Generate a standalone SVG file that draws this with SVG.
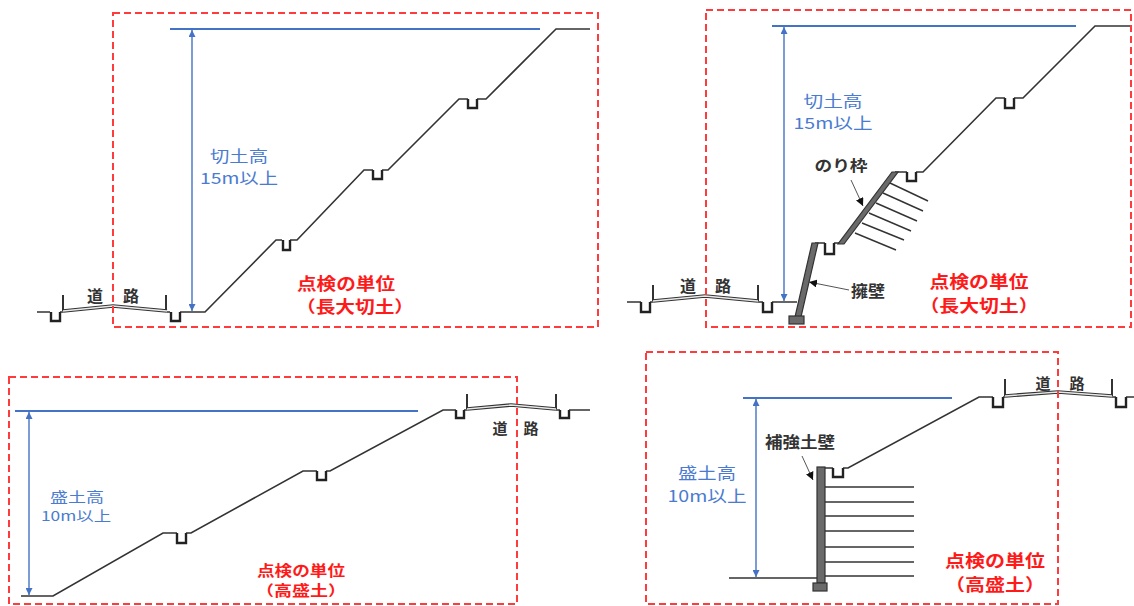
<svg xmlns="http://www.w3.org/2000/svg" width="1134" height="606" viewBox="0 0 1134 606">
<style>
.bg{fill:#fff}
.box{fill:none;stroke:#ff3b3b;stroke-width:2;stroke-dasharray:7 4}
.prof{fill:none;stroke:#333;stroke-width:1.6;stroke-linejoin:miter}
.drain{fill:none;stroke:#222;stroke-width:2.4}
.post{stroke:#333;stroke-width:2}
.roadO{fill:none;stroke:#333;stroke-width:3.6}
.roadI{fill:none;stroke:#e8e8e8;stroke-width:1.3}
.dimL{stroke:#4472c4;stroke-width:1.8;fill:none}
.dimA{stroke:#4472c4;stroke-width:1.4;fill:none}
.wall{fill:#6a6a6a;stroke:#333;stroke-width:1.2}
.anc{stroke:#333;stroke-width:1.4}
.lead{stroke:#555;stroke-width:1;fill:none}
.tb{font-family:"Noto Sans CJK JP","Noto Sans",sans-serif;fill:#4a7bd0;text-anchor:middle}
.tr{font-family:"Noto Sans CJK JP","Noto Sans",sans-serif;fill:#ff1a1a;font-weight:bold;text-anchor:middle}
.tk{font-family:"Noto Sans CJK JP","Noto Sans",sans-serif;fill:#333;font-weight:bold;text-anchor:middle}
</style>
<defs>
<marker id="ba" viewBox="0 0 10 10" refX="10" refY="5" markerWidth="7" markerHeight="7" markerUnits="userSpaceOnUse" orient="auto-start-reverse"><path d="M0,0 L10,5 L0,10 Z" fill="#4472c4"/></marker>
<marker id="ka" viewBox="0 0 10 10" refX="10" refY="5" markerWidth="8" markerHeight="8" markerUnits="userSpaceOnUse" orient="auto"><path d="M0,0 L10,5 L0,10 Z" fill="#111"/></marker>
</defs>
<rect class="bg" x="0" y="0" width="1134" height="606"/>

<g id="panel-top-left">
<path class="prof" d="M37,312 H50 M60,312 H63 M167,312 H170 M180,312 H205 L276,240 H282 M290,240 H297 L364,170 H373 M382,170 H388 L459,99 H468 M477,99 H486 L556,29 H590"/>
<path class="drain" d="M51,312 V321 H60 V312 M171,312 V321 H180 V312 M283,240 V250 H290 V240 M373,170 V179 H382 V170 M468,99 V108 H477 V99"/>
<line class="post" x1="63" y1="295" x2="63" y2="311"/>
<line class="post" x1="166" y1="295" x2="166" y2="311"/>
<polyline class="roadO" points="63,311 113,306 167,311"/>
<polyline class="roadI" points="63,311 113,306 167,311"/>
<text class="tk" x="95" y="302" font-size="16">道</text>
<text class="tk" x="131" y="302" font-size="16">路</text>
<line class="dimL" x1="170" y1="29" x2="540" y2="29"/>
<line class="dimA" x1="192" y1="30" x2="192" y2="311" marker-start="url(#ba)" marker-end="url(#ba)"/>
<text class="tb" x="239" y="162" font-size="15.5" textLength="58" lengthAdjust="spacingAndGlyphs">切土高</text>
<text class="tb" x="239" y="184" font-size="15.5" textLength="78" lengthAdjust="spacingAndGlyphs">15m以上</text>
<text class="tr" x="346" y="290" font-size="16.5" textLength="98" lengthAdjust="spacingAndGlyphs">点検の単位</text>
<text class="tr" x="355" y="313" font-size="16.5" textLength="118" lengthAdjust="spacingAndGlyphs">（長大切土）</text>
<rect class="box" x="113" y="13" width="485" height="314"/>
</g>

<g id="panel-top-right">
<path class="prof" d="M627,302 H641 M650,302 H653 M758,302 H763 M772,302 H797 M815,243 H825 M834,243 H842 M895,172 H907 M916,172 H923 L996,98 H1005 M1014,98 H1023 L1095,26 H1131"/>
<path class="drain" d="M641,302 V312 H650 V302 M763,302 V312 H772 V302 M825,243 V254 H834 V243 M907,172 V181 H916 V172 M1005,98 V108 H1014 V98"/>
<line class="post" x1="653" y1="285" x2="653" y2="301"/>
<line class="post" x1="758" y1="285" x2="758" y2="301"/>
<polyline class="roadO" points="653,301 705,296 758,301"/>
<polyline class="roadI" points="653,301 705,296 758,301"/>
<text class="tk" x="688" y="292" font-size="16">道</text>
<text class="tk" x="723" y="292" font-size="16">路</text>
<g id="anchors">
<line class="anc" x1="890" y1="183" x2="928" y2="201"/>
<line class="anc" x1="883" y1="193" x2="923" y2="211"/>
<line class="anc" x1="876" y1="203" x2="917" y2="221"/>
<line class="anc" x1="869" y1="213" x2="911" y2="231"/>
<line class="anc" x1="862" y1="223" x2="904" y2="240"/>
<line class="anc" x1="855" y1="233" x2="896" y2="250"/>
</g>
<polygon class="wall" points="838,244 844,244 898,172 892,172"/>
<polygon class="wall" points="795,317 801,317 818,243 812,243"/>
<rect class="wall" x="789" y="316" width="15" height="8"/>
<line class="dimL" x1="772" y1="26" x2="1076" y2="26"/>
<line class="dimA" x1="784" y1="27" x2="784" y2="301" marker-start="url(#ba)" marker-end="url(#ba)"/>
<text class="tb" x="833" y="107" font-size="15.5" textLength="59" lengthAdjust="spacingAndGlyphs">切土高</text>
<text class="tb" x="833" y="129" font-size="15.5" textLength="79" lengthAdjust="spacingAndGlyphs">15m以上</text>
<text class="tk" x="841" y="171" font-size="15" textLength="53" lengthAdjust="spacingAndGlyphs">のり枠</text>
<line class="lead" x1="851" y1="180" x2="863" y2="206" marker-end="url(#ka)"/>
<text class="tk" x="868" y="297" font-size="16" textLength="34" lengthAdjust="spacingAndGlyphs">擁壁</text>
<line class="lead" x1="849" y1="290" x2="809" y2="282" marker-end="url(#ka)"/>
<text class="tr" x="979" y="288" font-size="17" textLength="99" lengthAdjust="spacingAndGlyphs">点検の単位</text>
<text class="tr" x="979" y="312" font-size="17" textLength="119" lengthAdjust="spacingAndGlyphs">（長大切土）</text>
<rect class="box" x="706" y="10" width="425" height="317"/>
</g>

<g id="panel-bottom-left">
<path class="prof" d="M21,596 H53 L163,533 H177 M186,533 H191 L303,471 H317 M326,471 H330 L443,410 H456 M464,410 H467 M556,410 H560 M569,410 H590"/>
<path class="drain" d="M177,533 V543 H186 V533 M317,471 V480 H326 V471 M456,410 V418 H464 V410 M560,410 V418 H569 V410"/>
<line class="post" x1="467" y1="394" x2="467" y2="409"/>
<line class="post" x1="556" y1="394" x2="556" y2="409"/>
<polyline class="roadO" points="467,409 511,405 556,409"/>
<polyline class="roadI" points="467,409 511,405 556,409"/>
<text class="tk" x="500" y="434" font-size="15">道</text>
<text class="tk" x="531" y="434" font-size="15">路</text>
<line class="dimL" x1="15" y1="411" x2="418" y2="411"/>
<line class="dimA" x1="29" y1="412" x2="29" y2="595" marker-start="url(#ba)" marker-end="url(#ba)"/>
<text class="tb" x="77" y="502" font-size="13.5" textLength="54" lengthAdjust="spacingAndGlyphs">盛土高</text>
<text class="tb" x="76" y="521" font-size="13.5" textLength="70" lengthAdjust="spacingAndGlyphs">10m以上</text>
<text class="tr" x="301" y="576" font-size="14.3" textLength="88" lengthAdjust="spacingAndGlyphs">点検の単位</text>
<text class="tr" x="301" y="596" font-size="14.3" textLength="90" lengthAdjust="spacingAndGlyphs">（高盛土）</text>
<rect class="box" x="9" y="377" width="508" height="227"/>
</g>

<g id="panel-bottom-right">
<path class="prof" d="M729,578 H817 M825,468 H833 M843,468 H848 L979,397 H993 M1003,397 H1005 M1112,397 H1116 M1126,397 H1134"/>
<path class="drain" d="M833,468 V477 H843 V468 M993,397 V407 H1003 V397 M1116,397 V407 H1126 V397"/>
<line class="post" x1="1005" y1="379" x2="1005" y2="396"/>
<line class="post" x1="1112" y1="379" x2="1112" y2="396"/>
<polyline class="roadO" points="1005,396 1058,392 1112,396"/>
<polyline class="roadI" points="1005,396 1058,392 1112,396"/>
<text class="tk" x="1043" y="389" font-size="15">道</text>
<text class="tk" x="1077" y="389" font-size="15">路</text>
<g id="reinforcement">
<line class="anc" x1="825" y1="487" x2="914" y2="487"/>
<line class="anc" x1="825" y1="502" x2="914" y2="502"/>
<line class="anc" x1="825" y1="516" x2="914" y2="516"/>
<line class="anc" x1="825" y1="531" x2="914" y2="531"/>
<line class="anc" x1="825" y1="547" x2="914" y2="547"/>
<line class="anc" x1="825" y1="562" x2="914" y2="562"/>
<line class="anc" x1="825" y1="576" x2="914" y2="576"/>
</g>
<rect class="wall" x="817" y="467" width="8" height="116"/>
<rect class="wall" x="813" y="583" width="14" height="8"/>
<line class="dimL" x1="743" y1="398" x2="952" y2="398"/>
<line class="dimA" x1="756" y1="399" x2="756" y2="577" marker-start="url(#ba)" marker-end="url(#ba)"/>
<text class="tk" x="800" y="448" font-size="16" textLength="70" lengthAdjust="spacingAndGlyphs">補強土壁</text>
<line class="lead" x1="802" y1="456" x2="813" y2="480" marker-end="url(#ka)"/>
<text class="tb" x="707" y="479" font-size="16.4" textLength="58" lengthAdjust="spacingAndGlyphs">盛土高</text>
<text class="tb" x="707" y="502" font-size="16.4" textLength="79" lengthAdjust="spacingAndGlyphs">10m以上</text>
<text class="tr" x="995" y="567" font-size="17" textLength="100" lengthAdjust="spacingAndGlyphs">点検の単位</text>
<text class="tr" x="995" y="591" font-size="17" textLength="100" lengthAdjust="spacingAndGlyphs">（高盛土）</text>
<rect class="box" x="646" y="352" width="412" height="252"/>
</g>
</svg>
